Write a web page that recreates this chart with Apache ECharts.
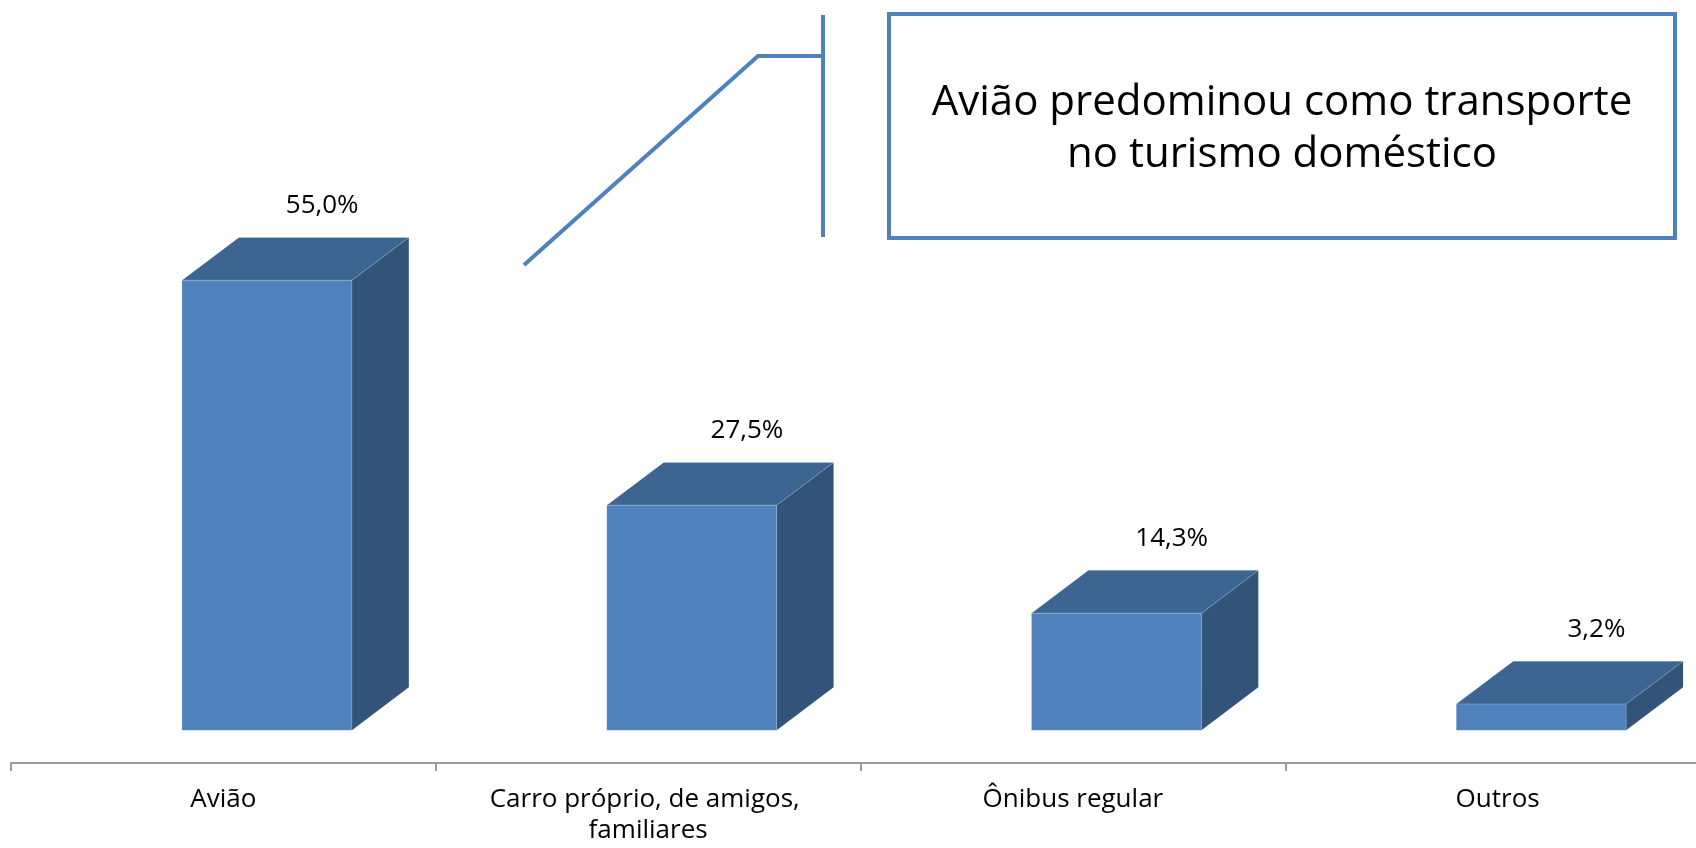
<!DOCTYPE html>
<html>
<head>
<meta charset="utf-8">
<script src="https://cdn.jsdelivr.net/npm/echarts@6/dist/echarts.min.js"></script>
<style>
html,body{margin:0;padding:0;background:#fff;overflow:hidden;width:1696px;height:848px;}
#chart{width:1720px;height:848px;}
</style>
</head>
<body>
<div id="chart"></div>
<script>
const categories = ['Avião', 'Carro próprio, de amigos, familiares', 'Ônibus regular', 'Outros'];
const shares = [55.0, 27.5, 14.3, 3.2];
const calloutLines = ['Avião predominou como transporte', 'no turismo doméstico'];

const FONT = '"Open Sans", "Noto Sans", sans-serif';
const FRONT = '#4f81bd';
const TOP = '#3d6591';
const SIDE = '#325479';
const ACCENT = '#4f81bd';

const chart = echarts.init(document.getElementById('chart'), null, {renderer: 'canvas', width: 1720, height: 848});

function fmt(v) { return v.toFixed(1).replace('.', ',') + '%'; }

const option = {
  backgroundColor: '#ffffff',
  animation: false,
  grid: {left: 11, top: 239.4, width: 1699, height: 523.6, containLabel: false},
  xAxis: {
    type: 'category',
    data: categories,
    axisLine: {show: true, onZero: false, lineStyle: {color: '#9a9a9a', width: 2}},
    axisTick: {show: true, length: 8, alignWithLabel: false, lineStyle: {color: '#9a9a9a', width: 2}},
    axisLabel: {
      color: '#000', fontFamily: FONT, fontSize: 26, margin: 21, lineHeight: 31,
      width: 390, overflow: 'break', interval: 0
    },
    splitLine: {show: false}
  },
  yAxis: {
    type: 'value', min: -4, max: 60,
    show: false, splitLine: {show: false}
  },
  series: [{
    type: 'custom',
    clip: false,
    data: shares.map((v, i) => [i, v]),
    encode: {x: 0, y: 1},
    renderItem: function (params, api) {
      const i = api.value(0), v = api.value(1);
      const t = api.coord([i, v]);
      const b = api.coord([i, 0]);
      const band = api.size([1, 0])[0];
      const w = band * 0.40;
      const dx = band * 0.134;
      const dy = dx * 0.754;
      const x0 = t[0] - band * 0.0974;
      const yt = t[1], yb = b[1];
      return {
        type: 'group',
        children: [
          {type: 'polygon', shape: {points: [[x0 + w, yt], [x0 + w + dx, yt - dy], [x0 + w + dx, yb - dy], [x0 + w, yb]]},
            style: {fill: SIDE}},
          {type: 'polygon', shape: {points: [[x0, yt], [x0 + dx, yt - dy], [x0 + w + dx, yt - dy], [x0 + w, yt]]},
            style: {fill: TOP, stroke: 'rgba(255,255,255,0.18)', lineWidth: 1}},
          {type: 'rect', shape: {x: x0, y: yt, width: w, height: yb - yt},
            style: {fill: FRONT, stroke: 'rgba(255,255,255,0.18)', lineWidth: 1}},
          {type: 'text', x: x0 + band * 0.33, y: yt - dy - 32,
            style: {text: fmt(v), fill: '#000', font: '26px ' + FONT, align: 'center', verticalAlign: 'middle'}}
        ]
      };
    }
  }],
  graphic: [
    {type: 'polyline', shape: {points: [[524, 265], [758, 56], [823, 56]]},
      style: {stroke: ACCENT, lineWidth: 4, fill: null}},
    {type: 'line', shape: {x1: 823, y1: 15, x2: 823, y2: 237},
      style: {stroke: ACCENT, lineWidth: 4}},
    {type: 'rect', shape: {x: 889, y: 14, width: 786, height: 224},
      style: {stroke: ACCENT, lineWidth: 4, fill: '#fff'}},
    {type: 'text', x: 1282, y: 129,
      style: {text: calloutLines.join('\n'), fill: '#000', font: '42px ' + FONT,
        align: 'center', verticalAlign: 'middle', lineHeight: 52}}
  ]
};
chart.setOption(option);
</script>
</body>
</html>
